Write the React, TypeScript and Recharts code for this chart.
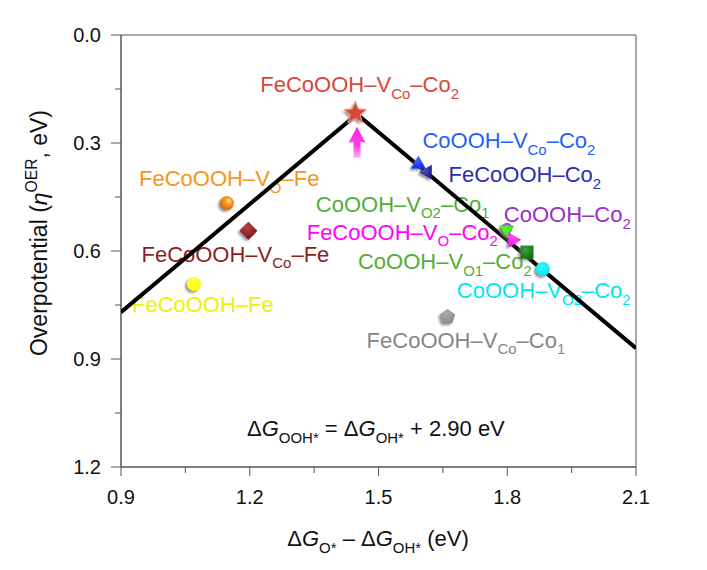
import React from 'react';
import { ScatterChart, Scatter, XAxis, YAxis, ReferenceArea, Customized } from 'recharts';

const FONT = '"Liberation Sans", Arial, Helvetica, sans-serif';

// volcano relation (two linear branches meeting at the top)
const VOLCANO_X = [0.9, 1.45, 2.1];
const VOLCANO_ETA = [0.77, 0.22, 0.87];

// catalysts, drawn in this order
const NAMES = [
  'FeCoOOH–V_{Co}–Co_{2}',
  'CoOOH–V_{Co}–Co_{2}',
  'FeCoOOH–Co_{2}',
  'CoOOH–Co_{2}',
  'CoOOH–V_{O2}–Co_{1}',
  'FeCoOOH–V_{O}–Co_{2}',
  'CoOOH–V_{O1}–Co_{2}',
  'CoOOH–V_{O2}–Co_{2}',
  'FeCoOOH–V_{Co}–Co_{1}',
  'FeCoOOH–V_{O}–Fe',
  'FeCoOOH–V_{Co}–Fe',
  'FeCoOOH–Fe',
];
const DG = [1.446, 1.593, 1.612, 1.799, 1.799, 1.815, 1.846, 1.883, 1.661, 1.147, 1.197, 1.07];
const ETA = [0.217, 0.356, 0.381, 0.537, 0.544, 0.569, 0.603, 0.65, 0.783, 0.467, 0.544, 0.692];

// arrow pointing at the best catalyst
const ARROW_X = [1.45];
const ARROW_ETA = [0.255];

const X_TICKS = [0.9, 1.05, 1.2, 1.35, 1.5, 1.65, 1.8, 1.95, 2.1];
const X_MAJOR = [0.9, 1.2, 1.5, 1.8, 2.1];
const Y_TICKS = [0, 0.15, 0.3, 0.45, 0.6, 0.75, 0.9, 1.05, 1.2];
const Y_MAJOR = [0, 0.3, 0.6, 0.9, 1.2];

// styling per catalyst
const MARKER_COLORS = ['#d8473b', '#1030ff', '#1c1c96', '#9a2fc7', '#2ee600', '#ff10f0', '#0a780a', '#00ecf7', '#8c8c8c', '#ff8a00', '#8b0a0a', '#ffff00'];
const LABEL_COLORS = ['#d8473b', '#1f5fff', '#2d2db0', '#9a30c6', '#52ad3a', '#ff00ff', '#52ad3a', '#00e6f2', '#868686', '#f7941d', '#8b1f1f', '#f0f000'];
const SHAPES = ['star', 'triUp', 'triLeft', 'smallCircle', 'triDown', 'triRight', 'square', 'circle', 'pentagon', 'sphere', 'diamond', 'circle'];
const LABEL_OFFSETS = [[-95, -21], [4, -15], [22, 10], [-3, -6], [-191, -19], [-207, 0], [-169, 17], [-86, 29], [-81, 31], [-88, -17], [-107, 31], [-62, 28]];

const points = NAMES.map((name, i) => ({ x: DG[i], y: ETA[i], i }));
const volcano = VOLCANO_X.map((x, i) => ({ x, y: VOLCANO_ETA[i] }));
const arrows = ARROW_X.map((x, i) => ({ x, y: ARROW_ETA[i] }));

type Seg = [string, 'n' | 'sub' | 'sup' | 'i'];

function parse(spec: string): Seg[] {
  const out: Seg[] = [];
  const re = /_\{([^}]*)\}/g;
  let last = 0;
  let m;
  while ((m = re.exec(spec))) {
    if (m.index > last) out.push([spec.slice(last, m.index), 'n']);
    out.push([m[1], 'sub']);
    last = m.index + m[0].length;
  }
  if (last < spec.length) out.push([spec.slice(last), 'n']);
  return out;
}

function Rich({ x, y, segs, size, fill, anchor = 'start', transform }: any) {
  let cur = 0;
  return (
    <text x={x} y={y} fontSize={size} fill={fill} fontFamily={FONT} textAnchor={anchor} transform={transform}>
      {segs.map(([t, mode]: Seg, k: number) => {
        const target = mode === 'sub' ? size * 0.3 : mode === 'sup' ? -size * 0.42 : 0;
        const dy = target - cur;
        cur = target;
        const small = mode === 'sub' || mode === 'sup';
        return (
          <tspan key={k} dy={dy} fontSize={small ? size * 0.68 : size} fontStyle={mode === 'i' ? 'italic' : undefined}>
            {t}
          </tspan>
        );
      })}
    </text>
  );
}

function XTick({ x, y, payload }: any) {
  const v = payload.value;
  const major = X_MAJOR.some((m) => Math.abs(m - v) < 1e-6);
  return (
    <g>
      <line x1={x} x2={x} y1={y} y2={y + (major ? 9 : 6)} stroke="#555" />
      {major && (
        <text x={x} y={y + 37} textAnchor="middle" fontSize={20} fill="#111" fontFamily={FONT}>
          {v.toFixed(1)}
        </text>
      )}
    </g>
  );
}

function YTick({ x, y, payload }: any) {
  const v = payload.value;
  const major = Y_MAJOR.some((m) => Math.abs(m - v) < 1e-6);
  return (
    <g>
      <line x1={x - (major ? 10 : 6)} x2={x} y1={y} y2={y} stroke="#555" />
      {major && (
        <text x={x - 20} y={y + 7} textAnchor="end" fontSize={20} fill="#111" fontFamily={FONT}>
          {v.toFixed(1)}
        </text>
      )}
    </g>
  );
}

function poly(cx: number, cy: number, r: number, n: number, rot: number) {
  const pts = [];
  for (let k = 0; k < n; k++) {
    const a = rot + (k * 2 * Math.PI) / n;
    pts.push(`${(cx + r * Math.cos(a)).toFixed(2)},${(cy + r * Math.sin(a)).toFixed(2)}`);
  }
  return pts.join(' ');
}

function starPts(cx: number, cy: number, R: number, r: number) {
  const pts = [];
  for (let k = 0; k < 10; k++) {
    const a = -Math.PI / 2 + (k * Math.PI) / 5;
    const rr = k % 2 === 0 ? R : r;
    pts.push(`${(cx + rr * Math.cos(a)).toFixed(2)},${(cy + rr * Math.sin(a)).toFixed(2)}`);
  }
  return pts.join(' ');
}

function shapeEl(kind: string, cx: number, cy: number, fill: string, extra: any = {}) {
  switch (kind) {
    case 'star':
      return <polygon points={starPts(cx, cy, 12, 5.2)} fill={fill} {...extra} />;
    case 'triUp':
      return <polygon points={poly(cx, cy + 1, 8.5, 3, -Math.PI / 2)} fill={fill} {...extra} />;
    case 'triDown':
      return <polygon points={poly(cx, cy - 1, 8.5, 3, Math.PI / 2)} fill={fill} {...extra} />;
    case 'triLeft':
      return <polygon points={poly(cx + 1, cy, 8.5, 3, Math.PI)} fill={fill} {...extra} />;
    case 'triRight':
      return <polygon points={poly(cx - 1, cy, 8.5, 3, 0)} fill={fill} {...extra} />;
    case 'square':
      return <rect x={cx - 6.5} y={cy - 6.5} width={13} height={13} fill={fill} {...extra} />;
    case 'diamond':
      return <polygon points={poly(cx, cy, 9, 4, 0)} fill={fill} {...extra} />;
    case 'pentagon':
      return <polygon points={poly(cx, cy, 8, 5, -Math.PI / 2)} fill={fill} {...extra} />;
    case 'smallCircle':
      return <circle cx={cx} cy={cy} r={5.5} fill={fill} {...extra} />;
    default:
      return <circle cx={cx} cy={cy} r={7} fill={fill} {...extra} />;
  }
}

function Marker(props: any) {
  const { cx, cy, payload } = props;
  const i = payload.i;
  const kind = SHAPES[i];
  const color = MARKER_COLORS[i];
  return (
    <g>
      <g filter="url(#mshadow)" opacity={0.75}>{shapeEl(kind, cx - 2, cy + 2, '#777')}</g>
      {shapeEl(kind, cx, cy, kind === 'sphere' ? 'url(#sphereGrad)' : color)}
      {kind === 'star' && <polygon points={starPts(cx, cy, 12, 5.2)} fill="none" stroke="#f2a08a" strokeWidth={1} />}
      {kind !== 'sphere' && kind !== 'star' && (
        <g opacity={0.25}>{shapeEl(kind, cx, cy, 'url(#gloss)')}</g>
      )}
    </g>
  );
}

function NameLabel(props: any) {
  const { cx, cy, payload } = props;
  const i = payload.i;
  const [dx, dy] = LABEL_OFFSETS[i];
  return <Rich x={cx + dx} y={cy + dy} segs={parse(NAMES[i])} size={22} fill={LABEL_COLORS[i]} />;
}

function Arrow({ cx, cy }: any) {
  return (
    <polygon
      points={`${cx},${cy} ${cx + 8.5},${cy + 16} ${cx + 3.5},${cy + 15} ${cx + 3.5},${cy + 31} ${cx - 3.5},${cy + 31} ${cx - 3.5},${cy + 15} ${cx - 8.5},${cy + 16}`}
      fill="url(#arrowGrad)"
    />
  );
}

function Overlay() {
  return (
    <g>
      <defs>
        <filter id="mshadow" x="-50%" y="-50%" width="200%" height="200%">
          <feGaussianBlur stdDeviation="1.3" />
        </filter>
        <radialGradient id="sphereGrad" cx="0.62" cy="0.35" r="0.7">
          <stop offset="0" stopColor="#fff3d0" />
          <stop offset="0.3" stopColor="#ffa020" />
          <stop offset="1" stopColor="#d86000" />
        </radialGradient>
        <radialGradient id="gloss" cx="0.4" cy="0.3" r="0.7">
          <stop offset="0" stopColor="#fff" />
          <stop offset="1" stopColor="#fff" stopOpacity={0} />
        </radialGradient>
        <linearGradient id="arrowGrad" x1="0" y1="0" x2="0" y2="1">
          <stop offset="0" stopColor="#ff20e0" />
          <stop offset="0.6" stopColor="#ff40e8" />
          <stop offset="1" stopColor="#ffb0f4" />
        </linearGradient>
      </defs>
      <Rich
        x={247}
        y={436}
        size={22}
        fill="#111"
        segs={[['Δ', 'n'], ['G', 'i'], ['OOH*', 'sub'], [' = Δ', 'n'], ['G', 'i'], ['OH*', 'sub'], [' + 2.90 eV', 'n']]}
      />
      <Rich
        x={378}
        y={546}
        size={22}
        fill="#111"
        anchor="middle"
        segs={[['Δ', 'n'], ['G', 'i'], ['O*', 'sub'], [' – Δ', 'n'], ['G', 'i'], ['OH*', 'sub'], [' (eV)', 'n']]}
      />
      <Rich
        x={47}
        y={233}
        size={23}
        fill="#111"
        anchor="middle"
        transform="rotate(-90, 47, 233)"
        segs={[['Overpotential (', 'n'], ['η', 'i'], ['OER', 'sup'], [', eV)', 'n']]}
      />
    </g>
  );
}

export default function App() {
  return (
    <div style={{ position: 'absolute', left: 0, top: 0, background: '#fff' }}>
      <ScatterChart width={707} height={570} margin={{ top: 35, right: 71, bottom: 43, left: 61 }}>
        <Customized component={Overlay} />
        <XAxis
          type="number"
          dataKey="x"
          domain={[0.9, 2.1]}
          ticks={X_TICKS}
          allowDataOverflow
          tick={<XTick />}
          tickLine={false}
          tickSize={0}
          tickMargin={0}
          axisLine={{ stroke: '#555' }}
          height={60}
          interval={0}
        />
        <YAxis
          type="number"
          dataKey="y"
          domain={[0, 1.2]}
          reversed
          ticks={Y_TICKS}
          allowDataOverflow
          tick={<YTick />}
          tickLine={false}
          tickSize={0}
          tickMargin={0}
          axisLine={{ stroke: '#555' }}
          width={60}
          interval={0}
        />
        <ReferenceArea x1={0.9} x2={2.1} y1={0} y2={1.2} fill="none" stroke="#555" strokeWidth={1} />
        <Scatter data={points} shape={(p: any) => <NameLabel {...p} />} isAnimationActive={false} />
        <Scatter
          data={volcano}
          line={{ stroke: '#000', strokeWidth: 4 }}
          shape={() => <g />}
          isAnimationActive={false}
        />
        <Scatter data={arrows} shape={(p: any) => <Arrow {...p} />} isAnimationActive={false} />
        <Scatter data={points} shape={(p: any) => <Marker {...p} />} isAnimationActive={false} />
      </ScatterChart>
    </div>
  );
}
